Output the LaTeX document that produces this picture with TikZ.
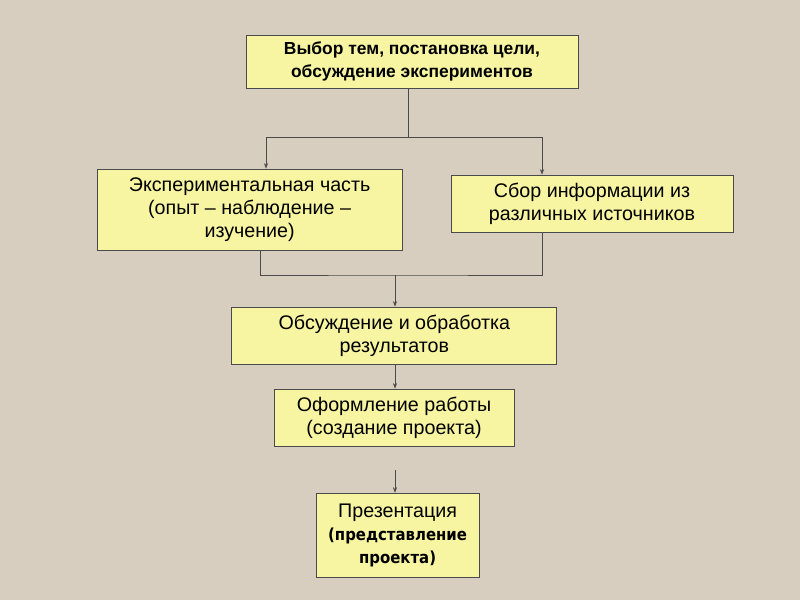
\documentclass[tikz,border=0pt]{standalone}
\usepackage{fontspec}
\setmainfont{Liberation Sans}
\newfontfamily\presfont{DejaVu Sans Condensed}
\usepackage{xcolor}
\usepackage{tikz}
\usetikzlibrary{positioning,arrows.meta}
\definecolor{slideBeige}{HTML}{D8CEBF}
\definecolor{stageYellow}{HTML}{F8F5A2}
\definecolor{lineGray}{HTML}{4A4A4A}

\begin{document}
\begin{tikzpicture}[
    stage/.style={draw=lineGray,line width=0.6pt,fill=stageYellow,align=center,
      inner sep=0pt,font=\fontsize{14}{16.5}\selectfont},
    link/.style={draw=lineGray,line width=0.6pt},
    tip/.style={link,-{Stealth[length=4pt,width=3pt]}}]
      \fill[slideBeige] (0,0) rectangle (20,15);
      \node[stage,minimum width=8.3cm,minimum height=1.325cm,
        font=\bfseries\fontsize{12.4}{16.5}\selectfont] (choice) at (10.3,13.46)
        {Выбор тем, постановка цели,\\обсуждение экспериментов};
      \node[stage,minimum width=7.625cm,minimum height=2.025cm] (experiment) at (6.24,9.76)
        {Экспериментальная часть\\(опыт – наблюдение –\\изучение)};
      \node[stage,minimum width=7.05cm,minimum height=1.425cm] (sources) at (14.8,9.91)
        {Сбор информации из\\различных источников};
      \node[stage,minimum width=8.125cm,minimum height=1.425cm] (discuss) at (9.86,6.61)
        {Обсуждение и обработка\\результатов};
      \node[stage,minimum width=6cm,minimum height=1.425cm] (writeup) at (9.85,4.56)
        {Оформление работы\\(создание проекта)};
      \node[stage,minimum width=4.075cm,minimum height=2.1cm] (present) at (9.94,1.62)
        {Презентация\\{\presfont\bfseries\fontsize{11.8}{16.5}\selectfont(представление}\\
         {\presfont\bfseries\fontsize{11.8}{16.5}\selectfont проекта)}};
      % branching from the top box
      \coordinate (split) at (10.2,11.575);
      \draw[link] (choice.south -| split) -- (split);
      \draw[tip] (split) -| ([xshift=0.41cm]experiment.north);
      \draw[tip] (split) -| ([xshift=-1.25cm]sources.north);
      % joining the two branches
      \coordinate (join) at (9.875,8.125);
      \draw[link] ([xshift=0.26cm]experiment.south) |- (join)
        -| ([xshift=-1.25cm]sources.south);
      \draw[tip] (join) -- (discuss.north -| join);
      \draw[tip] (discuss.south -| join) -- (writeup.north -| join);
      \coordinate (presin) at (9.875,3.25);
      \draw[tip] (presin) -- (present.north -| presin);
    \end{tikzpicture}
\end{document}
